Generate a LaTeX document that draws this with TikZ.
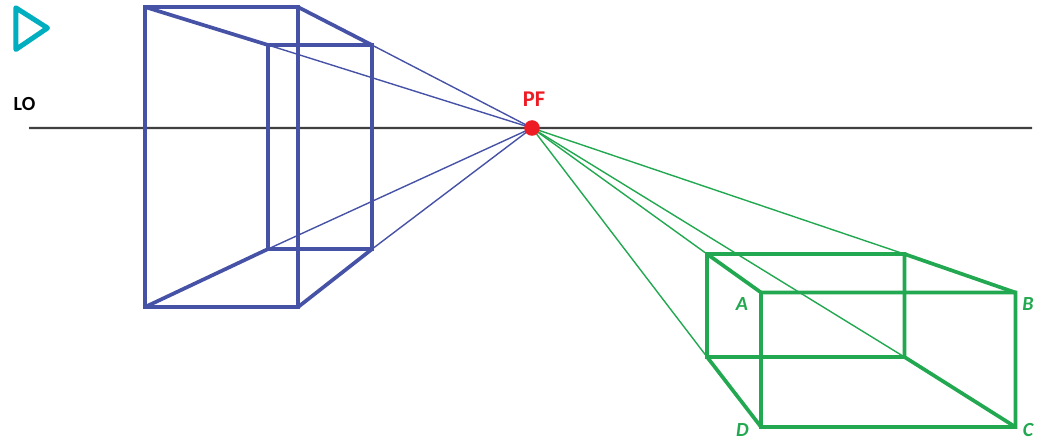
\documentclass[tikz,border=0pt]{standalone}
\usepackage{fontspec}
\setmainfont{Carlito}
\definecolor{bluebox}{RGB}{70,82,166}
\definecolor{greenbox}{RGB}{34,168,80}
\definecolor{pfred}{RGB}{237,28,36}
\definecolor{hline}{RGB}{64,64,64}
\definecolor{playcyan}{RGB}{0,174,192}
\tikzset{
  bluethick/.style={draw=bluebox,line width=3.7pt,line join=miter},
  bluethin/.style={draw=bluebox,line width=1.4pt},
  greenthick/.style={draw=greenbox,line width=3.7pt,line join=miter},
  greenthin/.style={draw=greenbox,line width=1.4pt},
  lbl/.style={font=\fontsize{20}{22}\selectfont\bfseries,inner sep=0pt},
  greenlbl/.style={lbl,text=greenbox,font=\fontsize{20}{22}\selectfont\bfseries\itshape},
}
\begin{document}
\begin{tikzpicture}[x=1pt,y=-1pt]
\useasboundingbox (0,0) rectangle (1043,438);
% horizon
\coordinate (h1) at (29,128);
\coordinate (h2) at (1032,128.06);
\draw[hline,line width=2.2pt] (h1) -- (h2);
% vanishing point position
\coordinate (pf) at (532,128);
% blue box corners
\coordinate (b1) at (145,7);
\coordinate (b2) at (298,7.06);
\coordinate (b3) at (298.06,307.06);
\coordinate (b4) at (145.06,307);
\coordinate (b5) at (268,45);
\coordinate (b6) at (372,45.06);
\coordinate (b7) at (372.06,249.06);
\coordinate (b8) at (268.06,249);
% green box corners
\coordinate (g1) at (707,254);
\coordinate (g2) at (904.5,254.06);
\coordinate (g3) at (904.56,357.06);
\coordinate (g4) at (707.06,357);
\coordinate (gA) at (761,292.5);
\coordinate (gB) at (1015.5,292.56);
\coordinate (gC) at (1015.56,427.06);
\coordinate (gD) at (761.06,427);
% thin lines to vanishing point
\foreach \c in {b5,b6,b7,b8} \draw[bluethin] (\c) -- (pf);
\foreach \c in {g1,g2,g3,g4} \draw[greenthin] (\c) -- (pf);
% blue box
\draw[bluethick] (b1) -- (b2) -- (b3) -- (b4) -- cycle;
\draw[bluethick] (b5) -- (b6) -- (b7) -- (b8) -- cycle;
\draw[bluethick] (b1) -- (b5) (b2) -- (b6) (b3) -- (b7) (b4) -- (b8);
% green box
\draw[greenthick] (g1) -- (g2) -- (g3) -- (g4) -- cycle;
\draw[greenthick] (gA) -- (gB) -- (gC) -- (gD) -- cycle;
\draw[greenthick] (g1) -- (gA) (g2) -- (gB) (g3) -- (gC) (g4) -- (gD);
% vanishing point
\fill[pfred] (pf) circle (7.8);
% labels
\node[lbl,text=black] (lo) at (24.5,104.5) {LO};
\node[lbl,text=pfred,font=\fontsize{22.5}{24}\selectfont\bfseries] (pflabel) at (534,99) {PF};
\node[greenlbl] (la) at (742,304) {A};
\node[greenlbl] (lb) at (1028,304) {B};
\node[greenlbl] (lc) at (1028,430) {C};
\node[greenlbl] (ld) at (742.5,430) {D};
% play mark
\coordinate (t1) at (15.8,7.8);
\coordinate (t2) at (47.5,28);
\coordinate (t3) at (15.86,49.5);
\draw[playcyan,line width=5pt,line join=round] (t1) -- (t2) -- (t3) -- cycle;
\end{tikzpicture}
\end{document}
